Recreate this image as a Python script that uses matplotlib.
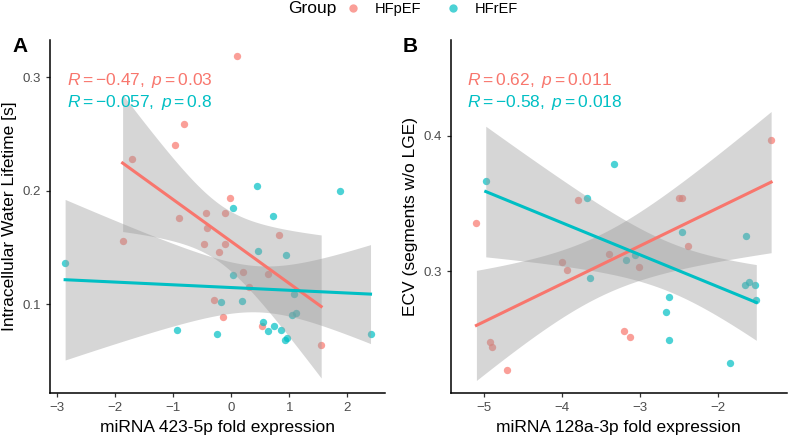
import math
import matplotlib
matplotlib.use("Agg")
import matplotlib.pyplot as plt
import numpy as np
from matplotlib.lines import Line2D

plt.rcParams['font.family'] = ['Liberation Sans', 'DejaVu Sans']
plt.rcParams['mathtext.fontset'] = 'custom'
plt.rcParams['mathtext.rm'] = 'Liberation Sans'
plt.rcParams['mathtext.it'] = 'Liberation Sans:italic'

COL_P = '#F8766D'
COL_R = '#00BFC4'

# panel A: miRNA 423-5p vs intracellular water lifetime
a_pef_x = [0.10, -0.82, -0.97, -1.70, -0.02, -0.44, -0.10, -0.90, -0.42, -1.87, -0.46,
           -0.10, -0.21, 0.82, 0.21, 0.63, 0.30, -0.29, -0.14, 0.53, 1.55]
a_pef_y = [0.319, 0.259, 0.240, 0.228, 0.194, 0.180, 0.180, 0.176, 0.167, 0.156, 0.153,
           0.153, 0.146, 0.161, 0.128, 0.127, 0.115, 0.104, 0.089, 0.081, 0.064]
a_ref_x = [0.44, 1.87, 0.04, 0.72, -2.86, 0.46, 0.94, 0.04, 1.09, -0.17, 0.18,
           1.04, 1.11, -0.93, -0.24, 0.55, 0.74, 0.64, 0.86, 0.92, 0.97, 2.40]
a_ref_y = [0.204, 0.200, 0.185, 0.178, 0.136, 0.147, 0.143, 0.126, 0.109, 0.102, 0.103,
           0.090, 0.092, 0.077, 0.074, 0.084, 0.081, 0.076, 0.077, 0.068, 0.070, 0.074]

# panel B: miRNA 128a-3p vs ECV
b_pef_x = [-1.32, -3.80, -2.50, -2.46, -5.10, -2.38, -3.40, -4.00, -3.94, -3.02,
           -3.21, -3.13, -4.93, -4.90, -4.71]
b_pef_y = [0.397, 0.353, 0.354, 0.354, 0.336, 0.319, 0.313, 0.307, 0.301, 0.303,
           0.256, 0.251, 0.248, 0.244, 0.227]
b_ref_x = [-4.98, -3.33, -3.68, -2.46, -1.64, -3.18, -3.06, -3.64, -1.65, -1.61,
           -1.53, -1.51, -2.63, -2.67, -2.63, -1.85]
b_ref_y = [0.367, 0.379, 0.354, 0.329, 0.326, 0.308, 0.312, 0.295, 0.290, 0.292,
           0.290, 0.279, 0.281, 0.270, 0.249, 0.232]

a_labels = [r"$R = -0.47,\ p = 0.03$", r"$R = -0.057,\ p = 0.8$"]
b_labels = [r"$R = 0.62,\ p = 0.011$", r"$R = -0.58,\ p = 0.018$"]


def t_crit(df, conf=0.95):
    # two sided t quantile, numeric integration of the pdf
    c = math.gamma((df + 1) / 2) / (math.sqrt(df * math.pi) * math.gamma(df / 2))
    t = np.linspace(0, 10, 200001)
    pdf = c * (1 + t ** 2 / df) ** (-(df + 1) / 2)
    cdf = np.concatenate([[0], np.cumsum((pdf[1:] + pdf[:-1]) / 2 * np.diff(t))])
    return t[np.searchsorted(cdf, conf / 2)]


def smooth(ax, x, y, col):
    x = np.array(x)
    y = np.array(y)
    n = len(x)
    b, a = np.polyfit(x, y, 1)
    xs = np.linspace(x.min(), x.max(), 80)
    fit = a + b * xs
    s = np.sqrt(np.sum((y - (a + b * x)) ** 2) / (n - 2))
    se = s * np.sqrt(1 / n + (xs - x.mean()) ** 2 / np.sum((x - x.mean()) ** 2))
    tq = t_crit(n - 2)
    ax.fill_between(xs, fit - tq * se, fit + tq * se, color='#999999', alpha=0.4,
                    linewidth=0, zorder=3)
    ax.plot(xs, fit, color=col, lw=2.2, zorder=4)


def style(ax):
    for sp in ['top', 'right']:
        ax.spines[sp].set_visible(False)
    for sp in ['left', 'bottom']:
        ax.spines[sp].set_linewidth(1.1)
        ax.spines[sp].set_color('black')
    ax.tick_params(length=3, width=0.9, color='#333333', labelsize=9.5, labelcolor='#4D4D4D')


fig = plt.figure(figsize=(7.89, 4.38), dpi=100)
axA = fig.add_axes([0.0634, 0.1027, 0.4246, 0.806])
axB = fig.add_axes([0.5712, 0.1027, 0.4259, 0.806])

for ax, px, py, rx, ry, labels in [
        (axA, a_pef_x, a_pef_y, a_ref_x, a_ref_y, a_labels),
        (axB, b_pef_x, b_pef_y, b_ref_x, b_ref_y, b_labels)]:
    ax.scatter(px, py, s=28, color=COL_P, alpha=0.7, linewidths=0, zorder=2)
    ax.scatter(rx, ry, s=28, color=COL_R, alpha=0.7, linewidths=0, zorder=2)
    smooth(ax, px, py, COL_P)
    smooth(ax, rx, ry, COL_R)
    ax.text(0.05, 0.885, labels[0], transform=ax.transAxes, color=COL_P, fontsize=12.5,
            va='center', ha='left')
    ax.text(0.05, 0.822, labels[1], transform=ax.transAxes, color=COL_R, fontsize=12.5,
            va='center', ha='left')
    style(ax)

axA.set_xlim(-3.12, 2.65)
axA.set_ylim(0.0216, 0.333)
axA.set_xticks([-3, -2, -1, 0, 1, 2])
axA.set_yticks([0.1, 0.2, 0.3])
axA.set_yticklabels(['0.1', '0.2', '0.3'])
axA.set_xlabel('miRNA 423-5p fold expression', fontsize=12.5, labelpad=4)
axA.set_ylabel('Intracellular Water Lifetime [s]', fontsize=12.5, labelpad=4)

axB.set_xlim(-5.43, -1.12)
axB.set_ylim(0.2099, 0.471)
axB.set_xticks([-5, -4, -3, -2])
axB.set_yticks([0.3, 0.4])
axB.set_yticklabels(['0.3', '0.4'])
axB.set_xlabel('miRNA 128a-3p fold expression', fontsize=12.5, labelpad=4)
axB.set_ylabel('ECV (segments w/o LGE)', fontsize=12.5, labelpad=4)

fig.text(12 / 789, 1 - 47 / 438, 'A', fontsize=15, fontweight='bold', va='center', ha='left')
fig.text(403 / 789, 1 - 47 / 438, 'B', fontsize=15, fontweight='bold', va='center', ha='left')

fig.text(288 / 789, 1 - 9 / 438, 'Group', fontsize=12.5, va='center', ha='left')
handles = [Line2D([], [], ls='', marker='o', ms=6, color=COL_P, alpha=0.7, mec='none'),
           Line2D([], [], ls='', marker='o', ms=6, color=COL_R, alpha=0.7, mec='none')]
fig.legend(handles, ['HFpEF', 'HFrEF'], ncol=2, frameon=False, fontsize=10.5,
           loc='center left', bbox_to_anchor=(344 / 789, 1 - 9 / 438), borderpad=0,
           handlelength=1.2, handletextpad=0.9, columnspacing=1.6, borderaxespad=0)

fig.savefig('out.png', dpi=100)
